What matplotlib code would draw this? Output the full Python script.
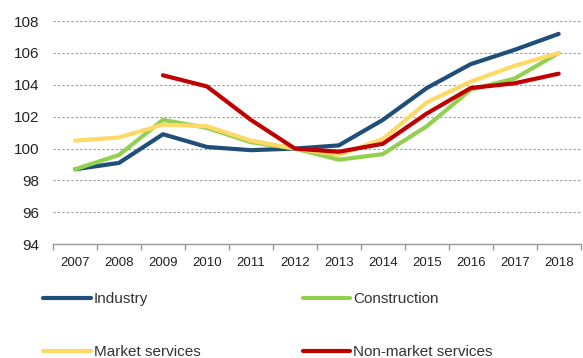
import numpy as np
import matplotlib
matplotlib.use('Agg')
import matplotlib.pyplot as plt

plt.rcParams['font.family'] = ['Liberation Sans', 'DejaVu Sans']

# index values, 2012 = 100
years = ['2007', '2008', '2009', '2010', '2011', '2012',
         '2013', '2014', '2015', '2016', '2017', '2018']
industry = [98.7, 99.1, 100.9, 100.1, 99.9, 100.0,
            100.2, 101.8, 103.8, 105.3, 106.2, 107.2]
construction = [98.7, 99.6, 101.8, 101.3, 100.4, 100.0,
                99.3, 99.65, 101.4, 103.7, 104.4, 106.0]
market_services = [100.5, 100.7, 101.5, 101.4, 100.5, 100.0,
                   99.6, 100.6, 102.9, 104.2, 105.2, 106.0]
non_market_services = [np.nan, np.nan, 104.6, 103.9, 101.8, 100.0,
                       99.8, 100.3, 102.2, 103.8, 104.1, 104.7]

series = [('Industry', industry, '#1f4e79'),
          ('Construction', construction, '#92d050'),
          ('Market services', market_services, '#ffd966'),
          ('Non-market services', non_market_services, '#c00000')]

fig = plt.figure(figsize=(5.83, 3.58), dpi=100)
ax = fig.add_axes([0.091, 0.318, 0.905, 0.623])

x = np.arange(len(years))
lines = {}
for name, vals, col in series:
    lines[name], = ax.plot(x, vals, color=col, lw=3.0, label=name,
                           solid_capstyle='round', solid_joinstyle='round')

ax.set_ylim(94, 108)
ax.set_yticks(np.arange(94, 109, 2))
ax.yaxis.grid(True, linestyle=(0, (2, 2)), color='#999999', lw=0.8)
ax.set_axisbelow(True)
ax.tick_params(axis='y', length=0, labelsize=11, colors='#222222', pad=10)

ax.set_xlim(-0.5, len(years) - 0.5)
ax.set_xticks(x)
ax.set_xticklabels(years)
ax.set_xticks(np.arange(-0.5, len(years)), minor=True)
ax.tick_params(axis='x', which='major', length=0, labelsize=9.5,
               colors='#222222', pad=9)
ax.tick_params(axis='x', which='minor', length=4, color='#999999', width=1)

for s in ['top', 'right', 'left']:
    ax.spines[s].set_visible(False)
ax.spines['bottom'].set_color('#999999')
ax.spines['bottom'].set_linewidth(1)

# legend filled column-wise, so order entries to read across rows
order = ['Industry', 'Market services', 'Construction', 'Non-market services']
fig.legend([lines[n] for n in order], order,
           loc='upper left', bbox_to_anchor=(0.051, 0.222), ncol=2,
           frameon=False, fontsize=11, handlelength=3.1, handletextpad=0.2,
           columnspacing=6.7, labelspacing=2.55, labelcolor='#333333')

fig.savefig('out.png', dpi=100)
